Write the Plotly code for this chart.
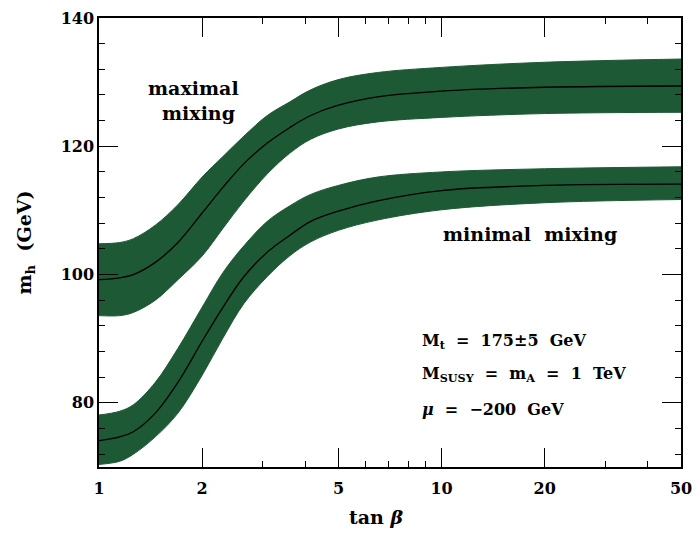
import plotly.graph_objects as go

# tan(beta) sample points
tanb = [1, 1.15, 1.26, 1.46, 1.7, 2, 2.3, 2.65, 3.1, 3.6, 4.15, 5, 6.5, 10, 20, 50]

# maximal mixing
max_c = [99.2, 99.5, 100.0, 101.9, 105.0, 109.6, 113.6, 117.3, 120.5, 122.9, 124.8, 126.4, 127.7, 128.6, 129.2, 129.4]
max_hi = [104.8, 105.0, 105.6, 107.7, 110.9, 115.2, 118.4, 121.6, 124.8, 126.9, 128.8, 130.4, 131.5, 132.3, 133.1, 133.6]
max_lo = [93.6, 93.6, 94.1, 96.0, 99.2, 102.9, 107.2, 111.5, 115.7, 118.9, 121.1, 122.7, 123.8, 124.5, 125.1, 125.3]

# minimal mixing
min_c = [74.1, 74.7, 75.5, 78.4, 83.2, 89.6, 94.9, 99.7, 103.5, 106.1, 108.3, 109.9, 111.5, 113.1, 113.9, 114.1]
min_hi = [78.1, 78.7, 79.7, 83.2, 88.5, 94.9, 100.3, 104.5, 108.3, 110.7, 112.5, 113.9, 115.2, 116.0, 116.5, 116.8]
min_lo = [70.4, 70.9, 72.0, 74.7, 78.4, 84.3, 90.1, 95.5, 99.7, 102.9, 105.1, 106.9, 108.5, 110.1, 111.2, 111.7]

x_ticks = [1, 2, 5, 10, 20, 50]
x_minor = [3, 4, 6, 7, 8, 9, 30, 40]
y_ticks = [80, 100, 120, 140]

GREEN = "#1d5934"
FONT = "DejaVu Serif"

fig = go.Figure()
for lo, hi, c in [(max_lo, max_hi, max_c), (min_lo, min_hi, min_c)]:
    fig.add_trace(go.Scatter(x=tanb, y=lo, mode="lines", line=dict(color=GREEN, width=1, shape="spline"),
                             showlegend=False, hoverinfo="skip"))
    fig.add_trace(go.Scatter(x=tanb, y=hi, mode="lines", line=dict(color=GREEN, width=1, shape="spline"),
                             fill="tonexty", fillcolor=GREEN, showlegend=False, hoverinfo="skip"))
    fig.add_trace(go.Scatter(x=tanb, y=c, mode="lines", line=dict(color="black", width=1.3, shape="spline"),
                             showlegend=False))

fig.update_xaxes(type="log", range=[0, 1.69897], tickvals=x_ticks, ticktext=[f"<b>{v}</b>" for v in x_ticks],
                 ticks="inside", ticklen=19, tickwidth=1.2, tickcolor="black", showline=True, linecolor="black",
                 linewidth=1.5, mirror="ticks", showgrid=False, zeroline=False, ticklabelstandoff=6,
                 automargin=True,
                 minor=dict(tickvals=x_minor, ticks="inside", ticklen=6, tickcolor="black", showgrid=False),
                 tickfont=dict(size=16, family=FONT, color="black"))
fig.update_yaxes(range=[70, 140], tickvals=y_ticks, ticktext=[f"<b>{v}</b>" for v in y_ticks],
                 ticks="inside", ticklen=19, tickwidth=1.2, tickcolor="black",
                 showline=True, linecolor="black", linewidth=1.5, mirror="ticks", showgrid=False, zeroline=False,
                 ticklabeloverflow="allow", automargin=False,
                 minor=dict(dtick=4, tick0=80, ticks="inside", ticklen=6, tickcolor="black", showgrid=False),
                 title=dict(text="<b>m<sub>h</sub>  (GeV)</b>", font=dict(size=19, family=FONT, color="black"),
                            standoff=24),
                 tickfont=dict(size=16, family=FONT, color="black"))

# x-axis title placed as annotation (offset left of centre as in the original)
fig.add_annotation(x=0.476, y=0, xref="paper", yref="paper", text="<b>tan <i>β</i></b>", showarrow=False,
                   xanchor="center", yanchor="middle", yshift=-50,
                   font=dict(size=19, family=FONT, color="black"))

ann_font = dict(size=19, family=FONT, color="black")
fig.add_annotation(x=0.415, y=129.1, xref="x", yref="y", text="<b>maximal</b>", showarrow=False,
                   xanchor="right", font=ann_font)
fig.add_annotation(x=0.404, y=125.2, xref="x", yref="y", text="<b>mixing</b>", showarrow=False,
                   xanchor="right", font=ann_font)
fig.add_annotation(x=1.258, y=106.3, xref="x", yref="y", text="<b>minimal  mixing</b>", showarrow=False,
                   xanchor="center", font=ann_font)
params = ["<b>M<sub>t</sub>  =  175±5  GeV</b>", "<b>M<sub>SUSY</sub>  =  m<sub>A</sub>  =  1  TeV</b>",
          "<b><i>μ</i>  =  −200  GeV</b>"]
for txt, yv in zip(params, [89.5, 84.4, 79.0]):
    fig.add_annotation(x=0.938, y=yv, xref="x", yref="y", text=txt, showarrow=False,
                       xanchor="left", font=dict(size=16, family=FONT, color="black"))

fig.update_layout(width=692, height=522, margin=dict(l=91, r=16, t=8, b=63),
                  plot_bgcolor="white", paper_bgcolor="white")
fig.write_html("out.html")
